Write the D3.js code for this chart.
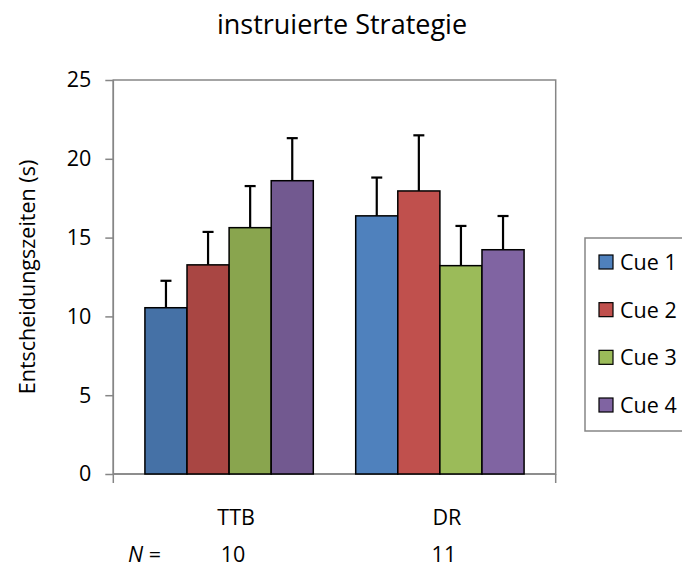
<!DOCTYPE html>
<html>
<head>
<meta charset="utf-8">
<script src="https://cdn.jsdelivr.net/npm/d3@7"></script>
<style>
  body { margin: 0; background: #fff; }
  text { font-family: "Open Sans", sans-serif; fill: #000; }
</style>
</head>
<body>
<div id="chart"></div>
<script>
// Daten
const groups = ["TTB", "DR"]
const nValues = [10, 11]
const cues = ["Cue 1", "Cue 2", "Cue 3", "Cue 4"]
const ttbMeans = [10.55, 13.27, 15.63, 18.61]
const ttbErr = [1.71, 2.09, 2.64, 2.70]
const drMeans = [16.38, 17.96, 13.22, 14.23]
const drErr = [2.43, 3.53, 2.52, 2.14]
const yTicks = [0, 5, 10, 15, 20, 25]

// Farben
const ttbColors = ["#4571A6", "#A94643", "#89A54E", "#725990"]
const drColors = ["#4F81BD", "#C0504D", "#9BBB59", "#8064A2"]

const width = 682, height = 570
const plotLeft = 113.3, plotRight = 555.7, plotTop = 80, plotBottom = 474
const axisColor = "#868686"
const fs = "21.5px"

const svg = d3.select("#chart")
  .append("svg")
    .attr("width", width)
    .attr("height", height)

// Skalen
const x0 = d3.scaleBand()
  .domain(groups)
  .range([plotLeft, plotRight])
  .paddingInner(0.2012)
  .paddingOuter(0.15)

const x1 = d3.scaleBand()
  .domain(cues)
  .range([0, x0.bandwidth()])

const y = d3.scaleLinear()
  .domain([0, 25])
  .range([plotBottom, plotTop])

const rows = [
  {g: "TTB", means: ttbMeans, errs: ttbErr, colors: ttbColors},
  {g: "DR", means: drMeans, errs: drErr, colors: drColors}
]
const data = rows.flatMap(r => cues.map((c, i) => ({g: r.g, cue: c, v: r.means[i], e: r.errs[i], color: r.colors[i]})))

// Rahmen der Zeichenfläche
svg.append("rect")
  .attr("x", plotLeft).attr("y", plotTop)
  .attr("width", plotRight - plotLeft).attr("height", plotBottom - plotTop)
  .attr("fill", "none")
  .attr("stroke", axisColor)
  .attr("stroke-width", 1.5)

// Y-Achse
svg.append("g")
  .attr("transform", `translate(${plotLeft},0)`)
  .call(d3.axisLeft(y).tickValues(yTicks).tickSize(8).tickPadding(14))
  .call(g => g.selectAll("line, path").attr("stroke", axisColor).attr("stroke-width", 1.5))
  .call(g => g.select(".domain").attr("d", `M0,${plotTop}V${plotBottom}`))
  .selectAll("text")
    .style("font-family", "Open Sans")
    .style("font-size", fs)
    .attr("fill", "#000")

// X-Achse (Linie + Endmarken)
svg.append("line")
  .attr("x1", plotLeft).attr("x2", plotRight)
  .attr("y1", plotBottom).attr("y2", plotBottom)
  .attr("stroke", axisColor).attr("stroke-width", 1.5)
svg.selectAll(".xtick")
  .data([plotLeft, plotRight])
  .join("line")
    .attr("x1", d => d).attr("x2", d => d)
    .attr("y1", plotBottom).attr("y2", plotBottom + 9)
    .attr("stroke", axisColor).attr("stroke-width", 1.5)

// Balken
svg.selectAll(".bar")
  .data(data)
  .join("rect")
    .attr("x", d => x0(d.g) + x1(d.cue))
    .attr("y", d => y(d.v))
    .attr("width", x1.bandwidth())
    .attr("height", d => y(0) - y(d.v))
    .attr("fill", d => d.color)
    .attr("stroke", "#000")
    .attr("stroke-width", 1.5)

// Fehlerbalken
const eb = svg.selectAll(".err")
  .data(data)
  .join("g")
    .attr("transform", d => `translate(${x0(d.g) + x1(d.cue) + x1.bandwidth() / 2},0)`)
eb.append("line")
  .attr("y1", d => y(d.v)).attr("y2", d => y(d.v + d.e))
  .attr("stroke", "#000").attr("stroke-width", 2.2)
eb.append("line")
  .attr("x1", -5.5).attr("x2", 5.5)
  .attr("y1", d => y(d.v + d.e)).attr("y2", d => y(d.v + d.e))
  .attr("stroke", "#000").attr("stroke-width", 2.2)

// Kategorienbeschriftung und N
svg.selectAll(".cat")
  .data(groups)
  .join("text")
    .attr("x", d => x0(d) + x0.bandwidth() / 2 + 7)
    .attr("y", 525)
    .attr("text-anchor", "middle")
    .style("font-size", fs)
    .text(d => d)

svg.selectAll(".nval")
  .data(groups)
  .join("text")
    .attr("x", d => x0(d) + x0.bandwidth() / 2 + 4)
    .attr("y", 562)
    .attr("text-anchor", "middle")
    .style("font-size", fs)
    .text((d, i) => nValues[i])

const nLab = svg.append("text")
  .attr("x", 128).attr("y", 562)
  .style("font-size", fs)
nLab.append("tspan").style("font-style", "italic").text("N")
nLab.append("tspan").text(" =")

// Titel
svg.append("text")
  .attr("x", 342).attr("y", 34)
  .attr("text-anchor", "middle")
  .style("font-size", "27px")
  .text("instruierte Strategie")

// Y-Achsentitel
svg.append("text")
  .attr("transform", `translate(35,${(plotTop + plotBottom) / 2}) rotate(-90)`)
  .attr("text-anchor", "middle")
  .style("font-size", fs)
  .text("Entscheidungszeiten (s)")

// Legende
const legend = svg.append("g")
legend.append("rect")
  .attr("x", 585).attr("y", 238)
  .attr("width", 120).attr("height", 193)
  .attr("fill", "#fff")
  .attr("stroke", axisColor).attr("stroke-width", 1.5)

const ly = d3.scalePoint().domain(cues).range([262, 405])
const li = legend.selectAll(".li")
  .data(cues)
  .join("g")
    .attr("transform", d => `translate(0,${ly(d)})`)
li.append("rect")
  .attr("x", 599).attr("y", -7)
  .attr("width", 14).attr("height", 14)
  .attr("fill", (d, i) => drColors[i])
  .attr("stroke", "#000").attr("stroke-width", 1.2)
li.append("text")
  .attr("x", 620).attr("y", 8)
  .style("font-size", fs)
  .text(d => d)
</script>
</body>
</html>
